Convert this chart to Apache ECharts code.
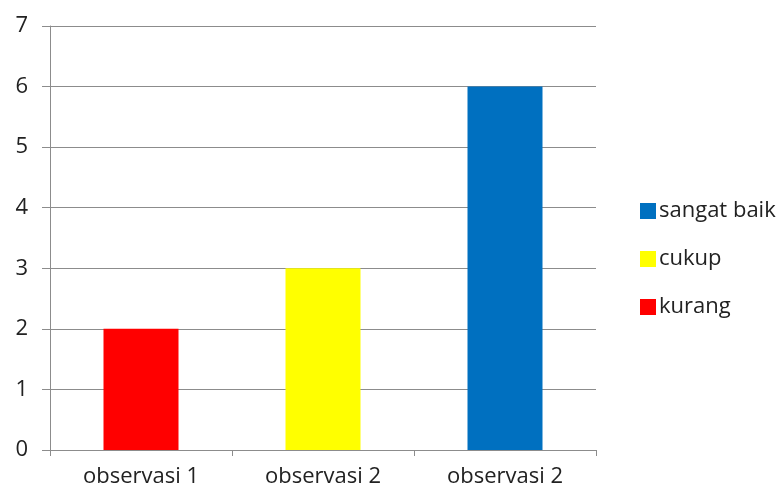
<!DOCTYPE html>
<html>
<head>
<meta charset="utf-8">
<script src="https://cdn.jsdelivr.net/npm/echarts@6/dist/echarts.min.js"></script>
<style>
    html, body { margin: 0; padding: 0; background: #fff; }
    #chart { width: 782px; height: 493px; }
</style>
</head>
<body>
<div id="chart"></div>
<script>
// data
var categories = ['observasi 1', 'observasi 2', 'observasi 2'];
var kurang = [2, '-', '-'];
var cukup = ['-', 3, '-'];
var sangatBaik = ['-', '-', 6];
var yTicks = [0, 1, 2, 3, 4, 5, 6, 7];

var myChart = echarts.init(document.getElementById('chart'));
var font = 'Open Sans, Noto Sans, sans-serif';

var option = {
    animation: false,
    textStyle: { fontFamily: font },
    grid: {
        left: 50,
        right: 186,
        top: 26,
        bottom: 43
    },
    legend: {
        orient: 'vertical',
        left: 635,
        top: 195,
        itemWidth: 16,
        itemHeight: 16,
        itemGap: 26,
        icon: 'rect',
        data: ['sangat baik', 'cukup', 'kurang'],
        textStyle: { fontSize: 22, color: '#222', fontFamily: font, padding: [0, 0, 0, -2] }
    },
    xAxis: {
        type: 'category',
        data: categories,
        axisLine: { lineStyle: { color: '#8c8c8c' } },
        axisTick: { show: true, length: 6, lineStyle: { color: '#8c8c8c' } },
        axisLabel: { fontSize: 22, color: '#222', margin: 16, fontFamily: font }
    },
    yAxis: {
        type: 'value',
        min: yTicks[0],
        max: yTicks[yTicks.length - 1],
        interval: 1,
        axisLine: { show: true, lineStyle: { color: '#8c8c8c' } },
        axisTick: { show: true, length: 8, lineStyle: { color: '#8c8c8c' } },
        axisLabel: { fontSize: 22, color: '#222', margin: 22, fontFamily: font },
        splitLine: { lineStyle: { color: '#8c8c8c' } }
    },
    series: [
        {
            name: 'kurang',
            type: 'bar',
            stack: 'all',
            barWidth: 75,
            itemStyle: { color: '#ff0000' },
            data: kurang
        },
        {
            name: 'cukup',
            type: 'bar',
            stack: 'all',
            barWidth: 75,
            itemStyle: { color: '#ffff00' },
            data: cukup
        },
        {
            name: 'sangat baik',
            type: 'bar',
            stack: 'all',
            barWidth: 75,
            itemStyle: { color: '#0070c0' },
            data: sangatBaik
        }
    ]
};
myChart.setOption(option);
</script>
</body>
</html>
